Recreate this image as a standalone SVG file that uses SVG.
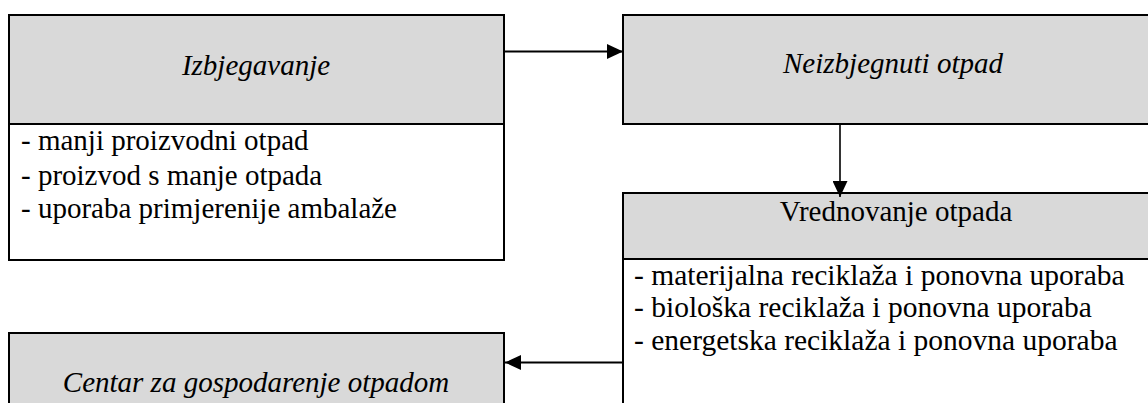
<svg xmlns="http://www.w3.org/2000/svg" width="1148" height="403" viewBox="0 0 1148 403">
  <style>
    .box { fill: #ffffff; stroke: #000000; stroke-width: 2; }
    .head { fill: #d9d9d9; stroke: #000000; stroke-width: 2; }
    text { font-family: 'Liberation Serif', 'DejaVu Serif', serif; font-size: 29px; fill: #000000; }
    .ti { font-style: italic; }
    .c { text-anchor: middle; }
    .r { font-size: 29.5px; }
    .conn { stroke: #000000; stroke-width: 2; fill: none; }
  </style>
  <defs>
    <marker id="ah" markerUnits="userSpaceOnUse" markerWidth="16" markerHeight="15" refX="16" refY="7.5" orient="auto">
      <path d="M0,0 L16,7.5 L0,15 z" fill="#000000"/>
    </marker>
  </defs>
  <rect width="1148" height="403" fill="#ffffff"/>

  <g id="node-izbjegavanje">
    <rect class="box" x="9" y="15" width="495" height="245"/>
    <rect class="head" x="9" y="15" width="495" height="109"/>
    <text class="ti c" x="256" y="75">Izbjegavanje</text>
    <text x="21" y="150">- manji proizvodni otpad</text>
    <text x="21" y="185">- proizvod s manje otpada</text>
    <text x="21" y="218">- uporaba primjerenije ambalaže</text>
  </g>

  <g id="node-neizbjegnuti">
    <rect class="head" x="623" y="15" width="560" height="109"/>
    <text class="ti c" x="893" y="73">Neizbjegnuti otpad</text>
  </g>

  <g id="node-vrednovanje">
    <rect class="box" x="623" y="193" width="560" height="230"/>
    <rect class="head" x="623" y="193" width="560" height="66"/>
    <text class="c" x="896" y="221">Vrednovanje otpada</text>
    <text class="r" x="634" y="285">- materijalna reciklaža i ponovna uporaba</text>
    <text class="r" x="634" y="317">- biološka reciklaža i ponovna uporaba</text>
    <text class="r" x="634" y="350">- energetska reciklaža i ponovna uporaba</text>
  </g>

  <g id="node-centar">
    <rect class="head" x="9" y="333" width="495" height="90"/>
    <text class="ti c" x="256" y="392">Centar za gospodarenje otpadom</text>
  </g>

  <g id="connectors">
    <line class="conn" x1="504" y1="51.5" x2="623" y2="51.5" marker-end="url(#ah)"/>
    <line class="conn" x1="840" y1="125" x2="840" y2="197" marker-end="url(#ah)" style="stroke-width:1.6"/>
    <line class="conn" x1="623" y1="362.5" x2="505" y2="362.5" marker-end="url(#ah)"/>
  </g>
</svg>
